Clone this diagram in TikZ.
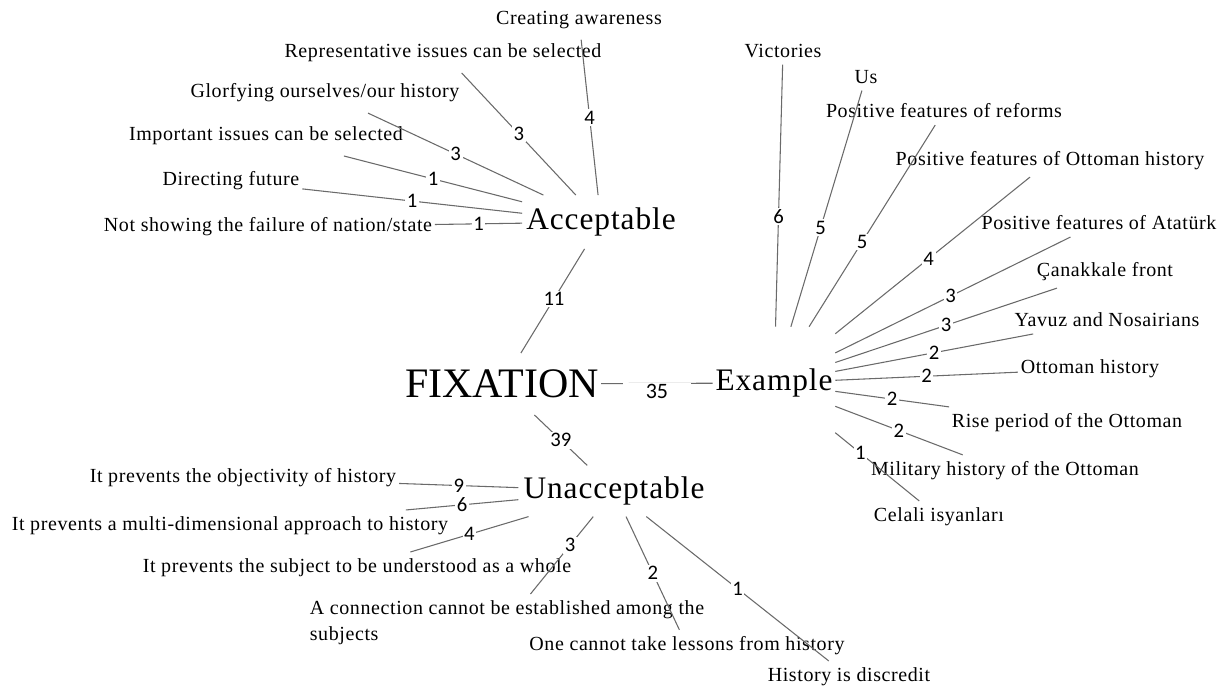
\documentclass[tikz,border=0pt]{standalone}
\usepackage{fontspec}
\setmainfont{Liberation Serif}[LetterSpace=3]
\newfontfamily\titlefont{Liberation Serif}
\newfontfamily\countfont{Carlito}
\definecolor{linkgray}{HTML}{6A6A6A}

\begin{document}
\begin{tikzpicture}[x=0.75pt, y=-0.75pt,
        leaf/.style={font=\fontsize{15}{19.5}\selectfont, inner xsep=2pt, inner ysep=5pt},
        upleaf/.style={leaf, inner ysep=8pt},
        hub/.style={font=\fontsize{23.5}{26}\selectfont, inner sep=1pt},
        num/.style={font=\countfont\fontsize{15.5}{16}\selectfont, fill=white, inner sep=1.2pt},
        link/.style={draw=linkgray, line width=0.8pt}]
    \useasboundingbox (0,0) rectangle (1222,691);

    % centre and the three branches
    \node[font=\titlefont\fontsize{31.5}{34}\selectfont, inner xsep=1.5pt, minimum height=46pt] (fix) at (502,384) {FIXATION};
    \node[hub, minimum width=118pt, minimum height=40pt] (acc) at (601,222) {Acceptable};
    \node[hub, minimum width=91.5pt, minimum height=84pt] (exa) at (774,383) {Example};
    \node[hub, minimum width=143pt, minimum height=38pt] (una) at (614,491) {Unacceptable};

    % acceptable
    \node[upleaf] (cre) at (579,20) {Creating awareness};
    \node[upleaf] (rep) at (443,53) {Representative issues can be selected};
    \node[upleaf] (glo) at (325,93) {Glorfying ourselves/our history};
    \node[upleaf] (imp) at (266,136) {Important issues can be selected};
    \node[upleaf] (dir) at (231,181) {Directing future};
    \node[upleaf] (nsh) at (268,227) {Not showing the failure of nation/state};

    % example
    \node[leaf] (vic) at (783,51) {Victories};
    \node[leaf] (us) at (866,77) {Us};
    \node[leaf] (ref) at (944,111) {Positive features of reforms};
    \node[leaf] (pot) at (1050,161) {Positive features of Ottoman history};
    \node[leaf] (ata) at (1099,223) {Positive features of Atatürk};
    \node[leaf] (can) at (1105,272) {Çanakkale front};
    \node[leaf] (yav) at (1107,320) {Yavuz and Nosairians};
    \node[leaf] (ott) at (1090,369) {Ottoman history};
    \node[leaf] (ris) at (1067,423) {Rise period of the Ottoman};
    \node[leaf] (mil) at (1005,471) {Military history of the Ottoman};
    \node[leaf] (cel) at (939,517) {Celali isyanları};

    % unacceptable
    \node[leaf] (obj) at (243,478) {It prevents the objectivity of history};
    \node[leaf] (mul) at (230,526) {It prevents a multi-dimensional approach to history};
    \node[leaf] (sub) at (357,568) {It prevents the subject to be understood as a whole};
    \node[leaf, align=left] (con) at (507,623) {A connection cannot be established among the\\subjects};
    \node[leaf] (les) at (687,646) {One cannot take lessons from history};
    \node[leaf] (dis) at (849,677) {History is discredit};

    \draw[link] (fix) -- node[num, pos=0.52]{11} (acc);
    \draw[link] (fix) -- node[num]{39} (una);
    \draw[link] (fix) -- node[num, font=\countfont\fontsize{16.5}{18}\selectfont, inner xsep=17pt, yshift=-6pt]{35} (exa);

    \foreach \c/\n in {cre/4, rep/3, glo/3, imp/1, dir/1, nsh/1}
        \draw[link] (acc) -- node[num]{\n} (\c);
    \foreach \c/\n/\p in {vic/6/0.42, us/5/0.42, ref/5/0.42, pot/4/0.48, ata/3/0.49, can/3/0.5,
                          yav/2/0.5, ott/2/0.5, ris/2/0.5, mil/2/0.5, cel/1/0.3}
        \draw[link] (exa) -- node[num, pos=\p]{\n} (\c);
    \foreach \c/\n/\p in {obj/9/0.5, mul/6/0.5, sub/4/0.5, con/3/0.37, les/2/0.5, dis/1/0.5}
        \draw[link] (una) -- node[num, pos=\p]{\n} (\c);
\end{tikzpicture}
\end{document}
